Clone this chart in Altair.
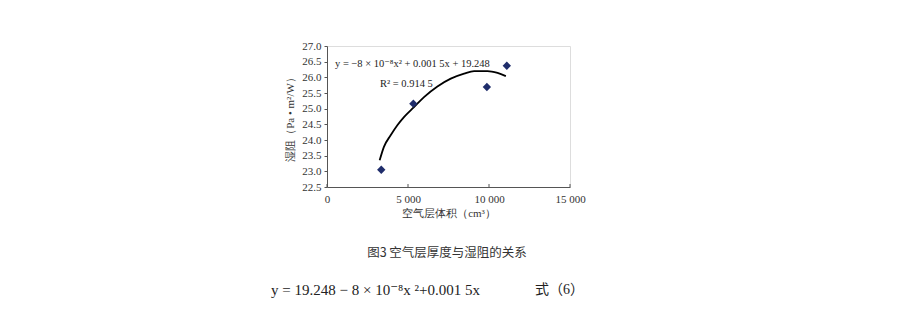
import altair as alt
import pandas as pd

# Measured data points (air-layer volume, moisture resistance)
vol = [3350, 5330, 9870, 11100]
res = [23.05, 25.16, 25.69, 26.37]

# Trend curve
curve_x = [3250, 3513, 3928, 4342, 4750, 5369, 5988, 6816, 7639, 8462, 9080, 9909, 10528, 11041]
curve_y = [23.35, 23.78, 24.15, 24.47, 24.73, 25.05, 25.37, 25.71, 25.96, 26.12, 26.20, 26.20, 26.14, 26.04]

x_ticks = [0, 5000, 10000, 15000]
y_ticks = [22.5, 23.0, 23.5, 24.0, 24.5, 25.0, 25.5, 26.0, 26.5, 27.0]

x_title = "空气层体积（cm³）"
y_title = "湿阻（Pa • m²/W）"
eq_text = "y = −8 × 10⁻⁸x² + 0.001 5x + 19.248"
r2_text = "R² = 0.914 5"
caption = "图3 空气层厚度与湿阻的关系"
formula = "y = 19.248 − 8 × 10⁻⁸x ²+0.001 5x"
formula_no = "式（6）"

W, H = 243, 141
SERIF = "'Liberation Serif', 'Times New Roman', 'DejaVu Serif', serif"
CJK = "'Noto Sans CJK SC', sans-serif"

pts = pd.DataFrame({"v": vol, "r": res})
cur = pd.DataFrame({"v": curve_x, "r": curve_y})
ticks = pd.DataFrame({"v": x_ticks})

xs = alt.Scale(domain=[0, 15000], nice=False)
ys = alt.Scale(domain=[22.5, 27.0], nice=False, zero=False)

x_axis = alt.Axis(
    values=x_ticks, title=x_title, ticks=False, grid=False, labelOverlap=False,
    labelExpr="replace(format(datum.value, ','), ',', ' ')",
    labelFont=SERIF, labelFontSize=11, labelColor="#333", labelPadding=6,
    titleFont=SERIF, titleFontSize=11, titleFontWeight="normal", titleColor="#333",
    titlePadding=3, domainColor="#555", labelFlush=False)
y_axis = alt.Axis(
    values=y_ticks, title=y_title, grid=False, format=".1f", labelOverlap=False,
    tickSize=3, tickColor="#555", domainColor="#555",
    labelFont=SERIF, labelFontSize=11, labelColor="#333", labelPadding=3,
    titleFont=SERIF, titleFontSize=11, titleFontWeight="normal", titleColor="#333",
    titlePadding=6)

x_enc = alt.X("v:Q", scale=xs, axis=x_axis)
y_enc = alt.Y("r:Q", scale=ys, axis=y_axis)

line = alt.Chart(cur).mark_line(color="#000", strokeWidth=1.8,
                                interpolate="monotone").encode(x=x_enc, y=y_enc)
points = alt.Chart(pts).mark_point(shape="diamond", filled=True, size=70,
                                   color="#1f2d6b", opacity=1).encode(x=x_enc, y=y_enc)
xt = alt.Chart(ticks).mark_rule(color="#555", strokeWidth=1).encode(
    x=x_enc, y=alt.value(H), y2=alt.value(H - 3))


def label(txt, x, y, font, size, align="left", color="#222"):
    return alt.Chart(pd.DataFrame({"t": [txt]})).mark_text(
        font=font, fontSize=size, align=align, baseline="middle", color=color
    ).encode(text="t:N", x=alt.value(x), y=alt.value(y))


texts = [
    label(eq_text, 8, 17.5, SERIF, 10.5),
    label(r2_text, 53, 37.5, SERIF, 10.5),
    label(caption, 120, 207, CJK, 12.5, align="center", color="#333"),
    label(formula, -56, 244, SERIF, 15),
    label(formula_no, 208, 244, "'Liberation Serif', 'Noto Sans CJK SC', serif", 14),
]

chart = alt.layer(line, points, xt, *texts).properties(
    width=W, height=H,
    autosize=alt.AutoSizeParams(type="none"),
    padding={"left": 327, "top": 46, "right": 332, "bottom": 126},
).configure_view(stroke=None).configure_axis(labelOverlap=False).configure(background="white")

chart.save("out.html", embed_options={"renderer": "svg", "actions": False})
